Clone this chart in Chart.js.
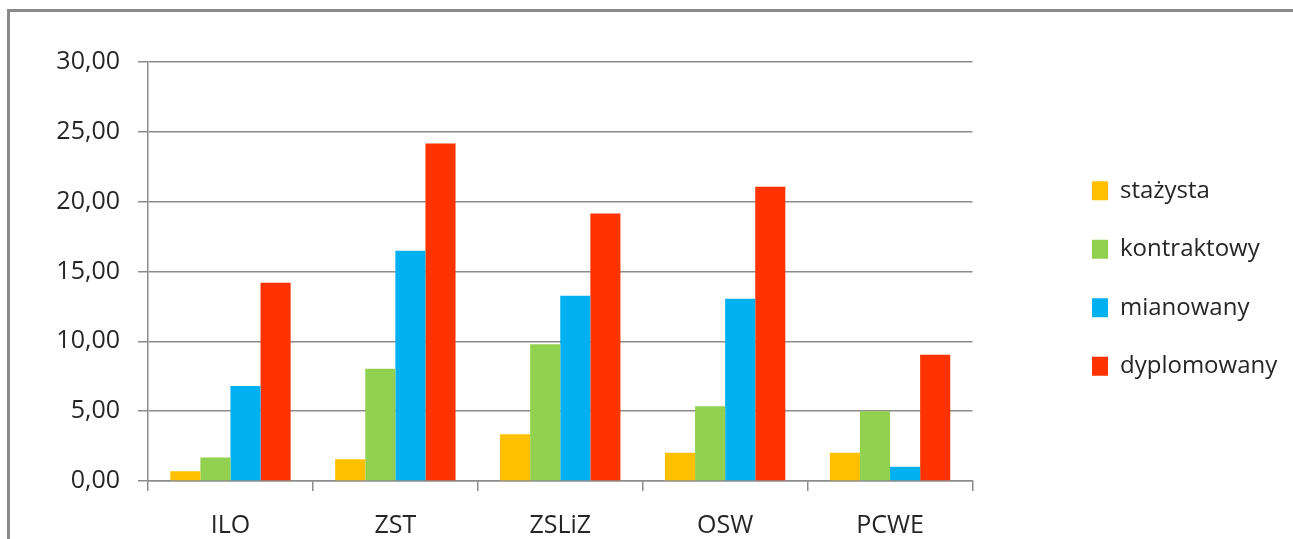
<!DOCTYPE html>
<html>
<head>
<meta charset="utf-8">
<script src="https://cdn.jsdelivr.net/npm/chart.js@4"></script>
<style>
  html, body { margin: 0; padding: 0; background: #fff; }
  #wrap { position: relative; width: 1293px; height: 539px; overflow: hidden; }
  #frame { position: absolute; left: 7px; top: 9px; right: -10px; bottom: -10px;
           border-left: 3px solid #8a8a8a; border-top: 3px solid #8a8a8a; }
  canvas { position: absolute; left: 0; top: 0; }
</style>
</head>
<body>
<div id="wrap">
  <div id="frame"></div>
  <canvas id="chart" width="1293" height="539"></canvas>
</div>
<script>
// categories (schools) and values per teacher grade
const categories = ['ILO', 'ZST', 'ZSLiZ', 'OSW', 'PCWE'];
const stazysta = [0.70, 1.56, 3.35, 2.03, 2.03];
const kontraktowy = [1.69, 8.04, 9.80, 5.36, 5.00];
const mianowany = [6.80, 16.48, 13.27, 13.05, 1.02];
const dyplomowany = [14.20, 24.17, 19.16, 21.07, 9.04];
const yTicks = [0, 5, 10, 15, 20, 25, 30];

const gridColor = '#8c8c8c';
const textColor = '#262626';

// legend comes out a bit too narrow for its labels, widen it
const legendWiden = {
    id: 'legendWiden',
    beforeInit: function(chart) {
        const fit = chart.legend.fit;
        chart.legend.fit = function() {
            fit.call(this);
            this.width += 20;
        };
    }
};

function drawChart() {
    const ctx = document.getElementById('chart').getContext('2d');

    new Chart(ctx, {
        type: 'bar',
        data: {
            labels: categories,
            datasets: [
                { label: 'stażysta', data: stazysta, backgroundColor: '#FFC000' },
                { label: 'kontraktowy', data: kontraktowy, backgroundColor: '#92D050' },
                { label: 'mianowany', data: mianowany, backgroundColor: '#00B0F0' },
                { label: 'dyplomowany', data: dyplomowany, backgroundColor: '#FF3300' }
            ]
        },
        options: {
            responsive: false,
            animation: false,
            devicePixelRatio: 1,
            datasets: {
                bar: { barPercentage: 1, categoryPercentage: 0.73, borderWidth: 0 }
            },
            layout: {
                padding: { top: 62, left: 0, right: 0, bottom: 0 }
            },
            scales: {
                x: {
                    grid: {
                        drawOnChartArea: false,
                        drawTicks: true,
                        tickLength: 10,
                        color: gridColor,
                        lineWidth: 1.5,
                        offset: true
                    },
                    border: { color: gridColor, width: 1.5 },
                    ticks: {
                        color: textColor,
                        padding: 20,
                        font: { family: 'Open Sans', size: 25 }
                    },
                    afterFit: function(scale) { scale.height = 58; }
                },
                y: {
                    min: 0,
                    max: 30,
                    afterBuildTicks: function(scale) {
                        scale.ticks = yTicks.map(v => ({ value: v }));
                    },
                    grid: {
                        color: gridColor,
                        lineWidth: 1.5,
                        tickLength: 10
                    },
                    border: { color: gridColor, width: 1.5 },
                    ticks: {
                        color: textColor,
                        padding: 18,
                        font: { family: 'Open Sans', size: 25 },
                        callback: function(v) { return v.toFixed(2).replace('.', ','); }
                    },
                    afterFit: function(scale) { scale.width = 148; }
                },
                // empty spacer axis: keeps the gap between the plot and the legend
                spacer: {
                    type: 'linear',
                    position: 'right',
                    display: true,
                    grid: { display: false, drawTicks: false },
                    border: { display: false },
                    ticks: { display: false },
                    afterFit: function(scale) { scale.width = 85; }
                }
            },
            plugins: {
                legend: {
                    position: 'right',
                    align: 'center',
                    fullSize: false,
                    // blank title, only nudges the items down a little
                    title: { display: true, text: ' ', padding: 0, font: { size: 10, lineHeight: 1.4 } },
                    labels: {
                        color: textColor,
                        boxWidth: 16,
                        boxHeight: 19,
                        padding: 34.5,
                        font: { family: 'Open Sans', size: 24 }
                    }
                },
                tooltip: { enabled: false }
            }
        },
        plugins: [legendWiden]
    });
}

// make sure the text is measured with the real font
document.fonts.load('24px "Open Sans"').then(drawChart, drawChart);
</script>
</body>
</html>
